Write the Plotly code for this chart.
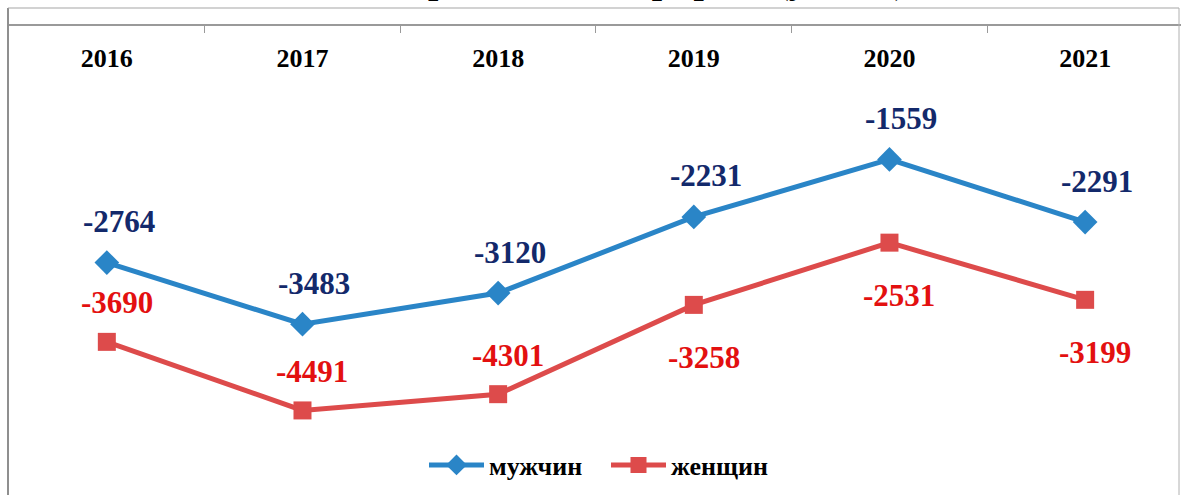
import plotly.graph_objects as go

years = ["2016", "2017", "2018", "2019", "2020", "2021"]
men = [-2764, -3483, -3120, -2231, -1559, -2291]
women = [-3690, -4491, -4301, -3258, -2531, -3199]
title_text = "Миграционный прирост (убыль)"

# which side of the point each женщин label sits on
women_label_side = ["above", "above", "above", "below", "below", "below"]

BLUE = "#2A85C7"
RED = "#DD4B4B"
SERIF = "Liberation Serif"

fig = go.Figure()
fig.add_trace(go.Scatter(
    x=years, y=men, name="мужчин", mode="lines+markers",
    line=dict(color=BLUE, width=5),
    marker=dict(symbol="diamond", size=19, color=BLUE),
))
fig.add_trace(go.Scatter(
    x=years, y=women, name="женщин", mode="lines+markers",
    line=dict(color=RED, width=5),
    marker=dict(symbol="square", size=18, color=RED),
))

# plot area: top edge is value 0 (x axis line), 428px tall
ml, mt, ph = 9, 26, 428
pw = 1181 - ml

def px_x(p):
    return (p - ml) / pw

def px_y(p):
    return 1 + (mt - p) / ph

annotations = [
    dict(text=title_text, xref="paper", yref="paper", x=px_x(631), y=px_y(4),
         xanchor="center", yanchor="bottom", showarrow=False,
         font=dict(size=37, family=SERIF, weight="bold", color="black")),
]
# category axis: annotations are placed by category index
for i, v in enumerate(men):
    annotations.append(dict(x=i, y=v, text=str(v), showarrow=False, yshift=41, xshift=12,
                            font=dict(size=31, family=SERIF, weight="bold", color="#13296B")))
for i, (v, side) in enumerate(zip(women, women_label_side)):
    annotations.append(dict(x=i, y=v, text=str(v), showarrow=False,
                            yshift=39 if side == "above" else -53, xshift=10,
                            font=dict(size=31, family=SERIF, weight="bold", color="#E31010")))

fig.update_layout(
    width=1181, height=495,
    margin=dict(l=ml, r=0, t=mt, b=495 - mt - ph),
    paper_bgcolor="white", plot_bgcolor="white",
    font=dict(family=SERIF, color="black", weight="bold"),
    showlegend=True,
    legend=dict(orientation="h", x=px_x(606), xanchor="center", y=px_y(465), yanchor="middle",
                font=dict(size=26, family=SERIF, weight="bold"), itemwidth=55,
                entrywidth=112, bgcolor="rgba(0,0,0,0)"),
    xaxis=dict(type="category", range=[-0.5, 5.49], side="top",
               showline=True, linecolor="#9a9a9a", linewidth=1.5,
               ticks="inside", ticklen=7, tickcolor="#9a9a9a", tickson="boundaries",
               ticklabelposition="inside", ticklabelstandoff=18,
               tickfont=dict(size=26, family=SERIF, weight="bold", color="black"),
               showgrid=False, zeroline=False),
    yaxis=dict(range=[-5000, 0], visible=False, showgrid=False, zeroline=False),
    shapes=[
        dict(type="line", xref="paper", yref="paper", x0=px_x(8), x1=px_x(8),
             y0=px_y(8), y1=px_y(520), line=dict(color="#8f8f8f", width=2)),
        dict(type="line", xref="paper", yref="paper", x0=px_x(8), x1=px_x(1179),
             y0=px_y(8), y1=px_y(8), line=dict(color="#a6a6a6", width=1.2)),
        dict(type="line", xref="paper", yref="paper", x0=px_x(1179), x1=px_x(1179),
             y0=px_y(8), y1=px_y(520), line=dict(color="#b0b0b0", width=1)),
    ],
    annotations=annotations,
)

# the page body has a default 8px margin; drop it so the figure sits at the window corner
fig.write_html("out.html", config={"displayModeBar": False},
               post_script="document.body.style.margin='0';")
